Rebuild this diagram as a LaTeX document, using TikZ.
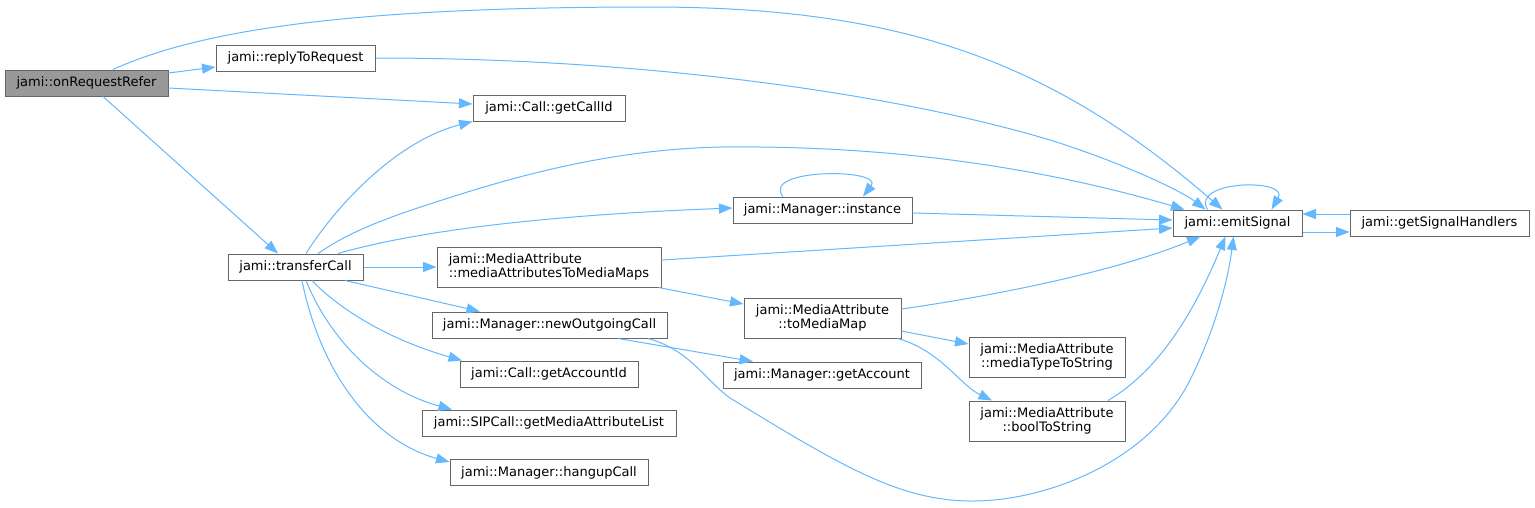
\documentclass[tikz,border=0pt]{standalone}
\usepackage{fontspec}
\setmainfont{DejaVu Sans}
\usetikzlibrary{arrows.meta}
\definecolor{edgeblue}{HTML}{63B8FF}
\definecolor{boxgray}{HTML}{666666}
\definecolor{rootfill}{HTML}{999999}
\tikzset{
  fn/.style={draw=boxgray, line width=1pt, fill=white, rectangle, inner sep=0pt,
    font=\fontsize{13}{14}\selectfont, align=center, text=black},
  rootfn/.style={fn, fill=rootfill},
  edge/.style={draw=edgeblue, line width=1pt, -{Triangle[length=13.5pt,width=10pt]}}
}
\begin{document}
\begin{tikzpicture}[x=1pt,y=-1pt]
\useasboundingbox[fill=white] (0,0) rectangle (1535,507);
% nodes
\node[rootfn, minimum width=163pt, minimum height=26pt] (R) at (86.5,83) {jami::onRequestRefer};
\node[fn, minimum width=159pt, minimum height=26pt] (RR) at (295.5,58) {jami::replyToRequest};
\node[fn, minimum width=152pt, minimum height=26pt] (GC) at (549,108) {jami::Call::getCallId};
\node[fn, minimum width=135pt, minimum height=26pt] (TC) at (295.5,267) {jami::transferCall};
\node[fn, minimum width=179pt, minimum height=26pt] (MI) at (822.5,210) {jami::Manager::instance};
\node[fn, minimum width=224pt, minimum height=40pt, align=left] (MA) at (549,267) {jami::MediaAttribute\\::mediaAttributesToMediaMaps};
\node[fn, minimum width=235pt, minimum height=26pt] (NO) at (549.5,325) {jami::Manager::newOutgoingCall};
\node[fn, minimum width=157pt, minimum height=40pt] (TM) at (822.5,318) {jami::MediaAttribute\\::toMediaMap};
\node[fn, minimum width=178pt, minimum height=26pt] (AI) at (549,374) {jami::Call::getAccountId};
\node[fn, minimum width=198pt, minimum height=26pt] (GA) at (822,375) {jami::Manager::getAccount};
\node[fn, minimum width=254pt, minimum height=26pt] (SP) at (549,423) {jami::SIPCall::getMediaAttributeList};
\node[fn, minimum width=198pt, minimum height=26pt] (HC) at (549,472.5) {jami::Manager::hangupCall};
\node[fn, minimum width=129pt, minimum height=26pt] (ES) at (1237.5,223) {jami::emitSignal};
\node[fn, minimum width=179pt, minimum height=26pt] (SH) at (1439.5,223) {jami::getSignalHandlers};
\node[fn, minimum width=156pt, minimum height=40pt] (MT) at (1047,357) {jami::MediaAttribute\\::mediaTypeToString};
\node[fn, minimum width=156pt, minimum height=40pt] (BS) at (1047,421) {jami::MediaAttribute\\::boolToString};
% edges
\draw[edge] ([yshift=10pt]R.east) -- ([yshift=-9pt]RR.west);
\draw[edge] ([yshift=-5pt]R.east) -- ([yshift=4pt]GC.west);
\draw[edge] ([xshift=26.5pt]R.north) .. controls (200,30) and (350,7) .. (650,7)
  .. controls (900,7) and (1050,60) .. ([xshift=-15pt]ES.north);
\draw[edge] ([xshift=16.5pt]R.south) -- ([xshift=-17.5pt]TC.north);
\draw[edge] (RR.east) .. controls (650,58) and (900,95) .. (1050,140)
  .. controls (1120,162) and (1180,190) .. ([xshift=-32pt]ES.north);
\draw[edge] ([xshift=10.5pt]TC.north) .. controls (340,200) and (400,140) .. (GC.south west);
\draw[edge] ([xshift=22.5pt]TC.north) .. controls (345,235) and (370,225) .. (400,214)
  .. controls (500,180) and (600,150) .. (720,147)
  .. controls (900,145) and (1050,170) .. ([xshift=-53pt]ES.north);
\draw[edge] ([xshift=42.5pt]TC.north) .. controls (420,230) and (550,215) .. ([yshift=2pt]MI.west);
\draw[edge] (TC.east) -- (MA.west);
\draw[edge] ([xshift=49.5pt]TC.south) -- ([xshift=-69.5pt]NO.north);
\draw[edge] ([xshift=16.5pt]TC.south) .. controls (340,310) and (390,340) .. ([xshift=-87pt]AI.north);
\draw[edge] ([xshift=10.5pt]TC.south) .. controls (330,340) and (380,390) .. ([xshift=-97pt]SP.north);
\draw[edge] ([xshift=6.5pt]TC.south) .. controls (320,370) and (370,440) .. ([yshift=-3pt]HC.north west);
\draw[edge] ([xshift=-39.5pt]MI.north) .. controls (760,168) and (885,168) .. ([xshift=40.5pt]MI.north);
\draw[edge] ([yshift=-3pt]MI.east) -- ([yshift=3pt]ES.west);
\draw[edge] ([yshift=7pt]MA.east) -- ([yshift=-5pt]ES.west);
\draw[edge] ([xshift=-3pt]MA.south east) -- ([yshift=14pt]TM.west);
\draw[edge] ([yshift=9pt]TM.east) .. controls (1000,295) and (1120,270) .. ([xshift=-37pt]ES.south);
\draw[edge] ([yshift=-13pt]TM.east) -- ([yshift=13pt]MT.west);
\draw[edge] ([xshift=-4pt]TM.south east) .. controls (940,350) and (960,385) .. ([xshift=-55pt]BS.north);
\draw[edge] ([xshift=61pt]BS.north) .. controls (1160,370) and (1195,310) .. ([xshift=-12pt]ES.south);
\draw[edge] ([xshift=98.5pt]NO.south) .. controls (690,350) and (705,380) .. (730,398)
  .. controls (840,465) and (900,502) .. (975,501)
  .. controls (1050,500) and (1150,460) .. (1190,380)
  .. controls (1215,330) and (1228,280) .. ([xshift=-4pt]ES.south);
\draw[edge] ([xshift=68.5pt]NO.south) -- ([xshift=-69pt]GA.north);
\draw[edge] ([xshift=-30pt]ES.north) .. controls (1190,180) and (1290,178) .. ([xshift=34pt]ES.north);
\draw[edge] ([yshift=-9pt]ES.east) -- ([yshift=-9pt]SH.west);
\draw[edge] ([yshift=9pt]SH.west) -- ([yshift=9pt]ES.east);
\end{tikzpicture}
\end{document}
